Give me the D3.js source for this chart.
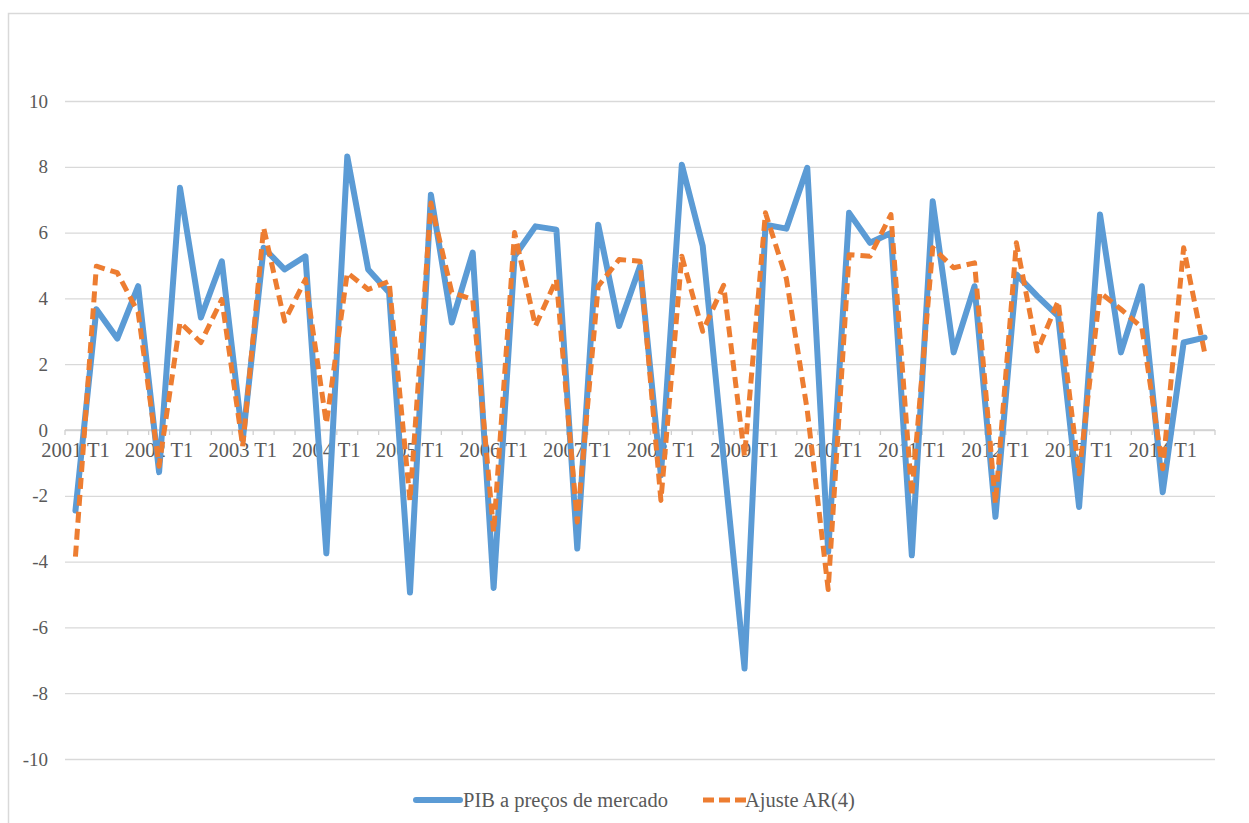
<!doctype html>
<html>
<head>
<meta charset="utf-8">
<title>PIB a preços de mercado</title>
<style>
  body { margin:0; background:#fff; }
  svg { display:block; }
</style>
<script src="https://cdnjs.cloudflare.com/ajax/libs/d3/7.8.5/d3.min.js"></script>
</head>
<body>
<svg id="chart" width="1249" height="823"></svg>
<script>
// quarters 2001 T1 .. 2014 T3
var years = d3.range(2001, 2015)
var quarters = []
years.forEach(function(y) {
  ["T1","T2","T3","T4"].forEach(function(q) { quarters.push(y + " " + q) })
})
quarters = quarters.slice(0, 55)

// PIB a preços de mercado (taxa de variação)
var pib = [-2.45, 3.67, 2.78, 4.37, -1.28, 7.36, 3.42, 5.13, -0.3, 5.54, 4.88, 5.28,
  -3.75, 8.31, 4.88, 4.18, -4.94, 7.15, 3.27, 5.39, -4.8, 5.28, 6.19, 6.09,
  -3.6, 6.24, 3.16, 4.98, -1.38, 8.06, 5.59, -0.85, -7.25, 6.24, 6.12, 7.97,
  -3.7, 6.6, 5.69, 5.99, -3.81, 6.95, 2.36, 4.37, -2.64, 4.73, 4.07, 3.46,
  -2.34, 6.55, 2.36, 4.37, -1.89, 2.66, 2.81]

// Ajuste AR(4)
var ajuste = [-3.85, 4.98, 4.78, 3.57, -1.1, 3.27, 2.66, 3.97, -0.5, 6.15, 3.31, 4.58,
  0.2, 4.78, 4.27, 4.52, -2.15, 6.9, 4.18, 3.97, -3.1, 6.0, 3.16, 4.58,
  -2.8, 4.37, 5.18, 5.13, -2.14, 5.28, 3.0, 4.4, -0.8, 6.6, 4.6, 0.6,
  -4.85, 5.33, 5.28, 6.55, -1.99, 5.54, 4.93, 5.08, -2.24, 5.69, 2.4, 3.92,
  -1.33, 4.18, 3.67, 3.12, -1.18, 5.54, 2.36]

var yTicks = [-10, -8, -6, -4, -2, 0, 2, 4, 6, 8, 10]
var seriesNames = ["PIB a preços de mercado", "Ajuste AR(4)"]

var serif = "'Liberation Serif', 'Times New Roman', serif"
var txtColor = "#595959"

var svg = d3.select("#chart")

// moldura
svg.append("rect")
  .attr("x", 8.5).attr("y", 13.5)
  .attr("width", 1300).attr("height", 900)
  .style("fill", "none").style("stroke", "#d9d9d9").style("stroke-width", 1.5)

var x = d3.scaleBand().domain(quarters).range([65, 1215])
var y = d3.scaleLinear().domain([-10, 10]).range([759, 101])

// grelha
svg.append("g")
  .attr("transform", "translate(65,0)")
  .call(d3.axisLeft(y).tickValues(yTicks).tickSize(-1150).tickFormat(""))
  .call(function(g) {
    g.select(".domain").remove()
    g.selectAll("line").style("stroke", "#d9d9d9").style("stroke-width", 1.3)
  })

// eixo y: rótulos
svg.append("g")
  .attr("transform", "translate(48,0)")
  .call(d3.axisLeft(y).tickValues(yTicks).tickSize(0).tickPadding(0)
    .tickFormat(function(d) { return String(d) }))
  .call(function(g) {
    g.select(".domain").remove()
    g.selectAll("text").style("font-family", serif).style("font-size", "19px").style("fill", txtColor)
  })

// eixo x em zero
var bounds = quarters.map(function(q) { return x(q) }).concat([x.range()[1]])
var xAxis = svg.append("g")
xAxis.append("line")
  .attr("x1", x.range()[0]).attr("x2", x.range()[1])
  .attr("y1", y(0)).attr("y2", y(0))
  .style("stroke", "#d0d0d0").style("stroke-width", 1.3)
xAxis.selectAll("line.tk")
  .data(bounds)
  .enter().append("line")
  .attr("class", "tk")
  .attr("x1", function(d) { return d }).attr("x2", function(d) { return d })
  .attr("y1", y(0)).attr("y2", y(0) + 5)
  .style("stroke", "#d0d0d0").style("stroke-width", 1.3)

svg.append("g")
  .attr("transform", "translate(0," + y(0) + ")")
  .call(d3.axisBottom(x)
    .tickValues(quarters.filter(function(q, i) { return i % 4 == 0 }))
    .tickSize(0).tickPadding(12))
  .call(function(g) {
    g.select(".domain").remove()
    g.selectAll("text").style("font-family", serif).style("font-size", "20.5px").style("fill", txtColor)
  })

// linhas
var line = function(vals) {
  return d3.line()
    .x(function(d, i) { return x(quarters[i]) + x.bandwidth() / 2 })
    .y(function(d) { return y(d) })(vals)
}

svg.append("path")
  .attr("d", line(pib))
  .style("fill", "none").style("stroke", "#5b9bd5")
  .style("stroke-width", 6).style("stroke-linejoin", "round").style("stroke-linecap", "round")

svg.append("path")
  .attr("d", line(ajuste))
  .style("fill", "none").style("stroke", "#ed7d31")
  .style("stroke-width", 5).style("stroke-dasharray", "11,6")
  .style("stroke-linejoin", "round")

// legenda
var leg = svg.append("g").attr("transform", "translate(0,800)")
leg.append("line")
  .attr("x1", 416).attr("x2", 460).attr("y1", 0).attr("y2", 0)
  .style("stroke", "#5b9bd5").style("stroke-width", 6).style("stroke-linecap", "round")
leg.append("text")
  .attr("x", 463).attr("y", 0).attr("dy", "0.35em")
  .style("font-family", serif).style("font-size", "20.5px").style("fill", txtColor)
  .text(seriesNames[0])
leg.append("line")
  .attr("x1", 703).attr("x2", 747).attr("y1", 0).attr("y2", 0)
  .style("stroke", "#ed7d31").style("stroke-width", 5).style("stroke-dasharray", "11,5")
leg.append("text")
  .attr("x", 745).attr("y", 0).attr("dy", "0.35em")
  .style("font-family", serif).style("font-size", "20.5px").style("fill", txtColor)
  .text(seriesNames[1])
</script>
</body>
</html>
